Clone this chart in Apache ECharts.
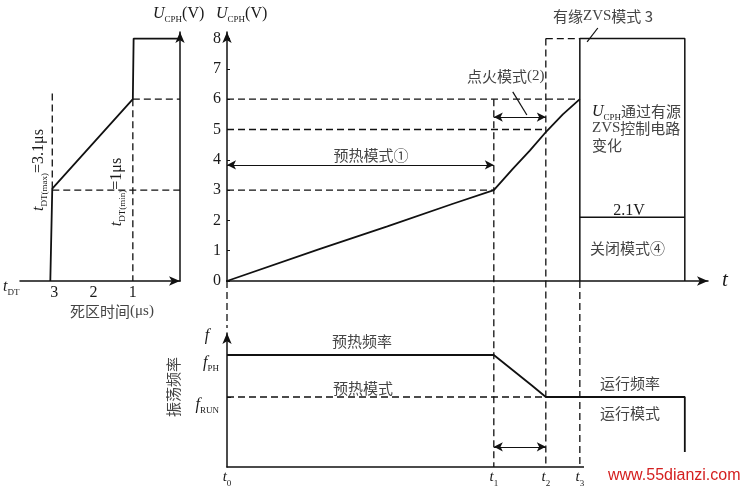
<!DOCTYPE html>
<html><head><meta charset="utf-8">
<script src="https://cdn.jsdelivr.net/npm/echarts@6/dist/echarts.min.js"></script>
<style>html,body{margin:0;padding:0;background:#fff}#c{width:743px;height:488px}</style>
</head><body><div id="c"></div>
<script>
// ---------------- data ----------------
const timeMarks = [0, 54.9, 65.6, 72.6];          // t0, t1, t2, t3
const timeMarkSubs = ['0', '1', '2', '3'];
const voltTicks = [0, 1, 2, 3, 4, 5, 6, 7, 8];
const curveT = [0, 19, 33, 46.5, 54.9, 58.8, 62.3, 65.8, 69.1, 72.6];
const curveV = [0, 1.05, 1.8, 2.55, 3.0, 3.7, 4.3, 4.95, 5.5, 6.0];
const zvsEndT = 94.2;
const zvsTopV = 8;
const offLevelV = 2.1;
const preheatArrowV = 3.83;
const igniteArrowV = 5.41;
const dtTicks = [1, 2, 3];
const dtCurveX = [3.1, 3.05, 1.0, 0.98];
const dtCurveV = [0, 3.05, 6, 8];
const dtGuideTopV = 6.3;
const freqT = [0, 54.9, 62.8, 65.6, 94.2, 94.2];
const freqF = [0.8, 0.8, 0.58, 0.5, 0.5, 0];
const fPH = 0.8, fRUN = 0.5;
const bottomArrowF = 0.144;
const leaderIgnite = [[58.8, 6.24], [61.7, 5.48]];
const leaderZvs = [[76.3, 8.35], [74.1, 7.89]];

// ---------------- layout ----------------
const L = {mainLeft: 227, bridgeLeft: 180, mainRight: 708, top: 32, axisY: 281, tPx: 4.86, vPx: 30.3,
           leftL: 20, dtPx: 39.3, dtMin: -0.2, botTop: 333, botY: 467, fPx: 140, labelGapX: 209};
const tAt = x => (x - L.mainLeft) / L.tPx;
const tMin = tAt(L.bridgeLeft);
const tMax = tAt(L.mainRight);
const vMax = (L.axisY - L.top) / L.vPx;
const vAt = y => (L.axisY - y) / L.vPx;
const dtMaxAxis = L.dtMin + (L.bridgeLeft - L.leftL) / L.dtPx;
const fMax = (L.botY - L.botTop) / L.fPx;
const vBottom = vAt(L.botY);

const SERIF = "'Liberation Serif', 'DejaVu Serif', serif";
const CJK = "'Noto Sans CJK SC', sans-serif";
const INK = '#1a1a1a', CJKC = '#444';

function richDef(size, sub) {
  size = size || 16; sub = sub || 9;
  const base = {lineHeight: 18, verticalAlign: 'top'};
  return {
    i: Object.assign({}, base, {fontFamily: SERIF, fontStyle: 'italic', fontSize: size, color: INK, fill: INK}),
    n: Object.assign({}, base, {fontFamily: SERIF, fontSize: size, color: INK, fill: INK}),
    s: {fontFamily: SERIF, fontSize: sub, lineHeight: 18, verticalAlign: 'bottom', color: INK, fill: INK},
    c: Object.assign({}, base, {fontFamily: CJK, fontSize: 15, color: CJKC, fill: CJKC}),
    z: Object.assign({}, base, {fontFamily: SERIF, fontSize: 15, color: CJKC, fill: CJKC})
  };
}

const dashed = {color: '#111', width: 1.3, type: [7, 4]};
const solid = w => ({color: '#111', width: w || 1.7});
function ls(xi, yi, pts, style, extra) {
  return Object.assign({type: 'line', xAxisIndex: xi, yAxisIndex: yi, data: pts, symbol: 'none',
    showSymbol: false, silent: true, animation: false, clip: false, lineStyle: style, z: 3}, extra || {});
}
const zip = (a, b) => a.map((v, i) => [v, b[i]]);
const [t0, t1, t2, t3] = timeMarks;

const arrowML = data => ({silent: true, animation: false, symbol: ['arrow', 'arrow'], symbolSize: [7, 9],
  label: {show: false}, lineStyle: {type: 'solid', color: '#111', width: 1.2}, data: data});

const series = [];
// main voltage curve with double arrows
series.push(ls(0, 0, zip(curveT, curveV), solid(1.8), {
  markLine: arrowML([
    [{coord: [t0, preheatArrowV]}, {coord: [t1, preheatArrowV]}],
    [{coord: [t1, igniteArrowV]}, {coord: [t2, igniteArrowV]}]
  ])
}));
// horizontal axis continues left to the dead-time panel
series.push(ls(0, 0, [[tMin, 0], [t0, 0]], {color: '#111', width: 1.5}));
series.push(ls(0, 0, [[t3, 0], [t3, zvsTopV], [zvsEndT, zvsTopV], [zvsEndT, 0]], solid(1.5)));
series.push(ls(0, 0, [[t3, offLevelV], [zvsEndT, offLevelV]], solid(1.5)));
const tGap = tAt(L.labelGapX);
[
  [[tMin, 6], [tGap, 6]], [[t0, 6], [t3, 6]],
  [[t0, 5], [t2, 5]],
  [[tMin, 3], [tGap, 3]], [[t0, 3], [t1, 3]],
  [[t2, zvsTopV], [t3, zvsTopV]],
  [[t0, 0], [t0, vAt(L.botTop - 5)]],
  [[t1, 6], [t1, vBottom]],
  [[t2, zvsTopV], [t2, vBottom]],
  [[t3, 0], [t3, vBottom]]
].forEach(seg => series.push(ls(0, 0, seg, dashed)));
series.push(ls(0, 0, leaderIgnite, solid(1.2)));
series.push(ls(0, 0, leaderZvs, solid(1.2)));

// left dead-time panel
const dtPts = zip(dtCurveX, dtCurveV).concat([[L.dtMin, dtCurveV[dtCurveV.length - 1]]]);
series.push(ls(1, 1, dtPts, solid(1.8)));
[
  [[1, 6], [L.dtMin, 6]],
  [[dtCurveX[1], 3], [L.dtMin, 3]],
  [[dtCurveX[1], dtCurveV[1]], [dtCurveX[1], dtGuideTopV]],
  [[1, 6], [1, 0]]
].forEach(seg => series.push(ls(1, 1, seg, dashed)));

// bottom frequency panel
series.push(ls(2, 2, zip(freqT, freqF), solid(1.8), {
  markLine: arrowML([[{coord: [t1, bottomArrowF]}, {coord: [t2, bottomArrowF]}]])
}));
series.push(ls(2, 2, [[t0, fRUN], [t2, fRUN]], dashed));

const axisLineBase = (sym) => ({show: true, onZero: false, lineStyle: {color: '#111', width: 1.5},
  symbol: sym ? ['none', 'arrow'] : 'none', symbolSize: [7, 11]});

const option = {
  backgroundColor: '#fff',
  animation: false,
  grid: [
    {left: L.mainLeft, top: L.top, width: L.mainRight - L.mainLeft, height: L.axisY - L.top, outerBoundsMode: 'none'},
    {left: L.leftL, top: L.top, width: L.bridgeLeft - L.leftL, height: L.axisY - L.top, outerBoundsMode: 'none'},
    {left: L.mainLeft, top: L.botTop, width: L.mainRight - L.mainLeft, height: L.botY - L.botTop, outerBoundsMode: 'none'}
  ],
  xAxis: [
    {gridIndex: 0, type: 'value', min: 0, max: tMax, axisLine: axisLineBase(true),
      axisTick: {show: false}, axisLabel: {show: false}, splitLine: {show: false}},
    {gridIndex: 1, type: 'value', inverse: true, min: L.dtMin, max: dtMaxAxis, axisLine: axisLineBase(true),
      axisTick: {show: false}, splitLine: {show: false},
      axisLabel: {customValues: dtTicks, margin: 4, fontFamily: SERIF, fontSize: 16, color: INK, formatter: v => String(v)}},
    {gridIndex: 2, type: 'value', min: 0, max: tMax, axisLine: axisLineBase(false),
      axisTick: {show: false}, splitLine: {show: false},
      axisLabel: {customValues: timeMarks, margin: 3, rich: richDef(15, 9),
        formatter: v => '{i|t}{s|' + timeMarkSubs[timeMarks.indexOf(v)] + '}'}}
  ],
  yAxis: [
    {gridIndex: 0, type: 'value', min: 0, max: vMax, axisLine: axisLineBase(true),
      axisTick: {show: true, inside: true, length: 3, customValues: voltTicks, lineStyle: {color: '#111'}},
      splitLine: {show: false},
      axisLabel: {customValues: voltTicks, margin: 6, fontFamily: SERIF, fontSize: 16, color: INK}},
    {gridIndex: 1, type: 'value', position: 'right', min: 0, max: vMax, axisLine: axisLineBase(true),
      axisTick: {show: false}, axisLabel: {show: false}, splitLine: {show: false}},
    {gridIndex: 2, type: 'value', min: 0, max: fMax, axisLine: axisLineBase(true),
      axisTick: {show: true, inside: true, length: 4, customValues: [fRUN, fPH], lineStyle: {color: '#111'}},
      splitLine: {show: false},
      axisLabel: {customValues: [fRUN, fPH], margin: 8, verticalAlign: 'top', rich: richDef(16, 9),
        formatter: v => v === fPH ? '{i|f}{s|PH}' : '{i|f}{s|RUN}'}}
  ],
  series: series
};

function gtext(x, yc, text, o) {
  o = o || {};
  return {type: 'text', x: x, y: yc - 9, rotation: o.rot || 0, z: 50, silent: true,
    style: {text: text, rich: richDef(o.size, o.sub), align: o.align || 'left', verticalAlign: 'top'}};
}
// rotated (bottom-to-top) text centred at (cx, cy)
function gvert(cx, cy, text) {
  return {type: 'text', x: cx - 9, y: cy, rotation: Math.PI / 2, z: 50, silent: true,
    style: {text: text, rich: richDef(), align: 'center', verticalAlign: 'top'}};
}
option.graphic = [
  gtext(153, 15, '{i|U}{s|CPH}{n|(V)}'),
  gtext(216, 15, '{i|U}{s|CPH}{n|(V)}'),
  gtext(3, 288, '{i|t}{s|DT}'),
  gtext(112, 313, '{c|死区时间}{z|(μs)}', {align: 'center'}),
  gvert(40, 170, '{i|t}{s|DT(max)}{n|=3.1μs}'),
  gvert(118, 192, '{i|t}{s|DT(min)}{n|=1μs}'),
  gtext(371, 157, '{c|预热模式①}', {align: 'center'}),
  gtext(467, 78, '{c|点火模式}{z|(2)}'),
  gtext(553, 18, '{c|有缘}{z|ZVS}{c|模式 3}'),
  gtext(592, 113, '{i|U}{s|CPH}{c|通过有源}'),
  gtext(592, 130, '{z|ZVS}{c|控制电路}'),
  gtext(592, 147, '{c|变化}'),
  gtext(629, 212, '{n|2.1V}', {align: 'center'}),
  gtext(590, 250, '{c|关闭模式④}'),
  gtext(362, 343, '{c|预热频率}', {align: 'center'}),
  gtext(363, 390, '{c|预热模式}', {align: 'center'}),
  gtext(600, 385, '{c|运行频率}'),
  gtext(600, 415, '{c|运行模式}'),
  gvert(175, 387, '{c|振荡频率}'),
  gtext(722, 279, '{i|t}', {size: 21}),
  gtext(207, 337, '{i|f}', {align: 'center'}),
  {type: 'rect', z: 90, silent: true, shape: {x: 584, y: 452, width: 159, height: 36}, style: {fill: '#fff'}},
  {type: 'text', z: 95, silent: true, x: 608, y: 476,
    style: {text: 'www.55dianzi.com', fontFamily: "'Liberation Sans', sans-serif", fontSize: 16,
      fill: '#d42020', align: 'left', verticalAlign: 'middle'}}
];

const chart = echarts.init(document.getElementById('c'), null, {renderer: 'canvas'});
chart.setOption(option);
</script>
</body></html>
